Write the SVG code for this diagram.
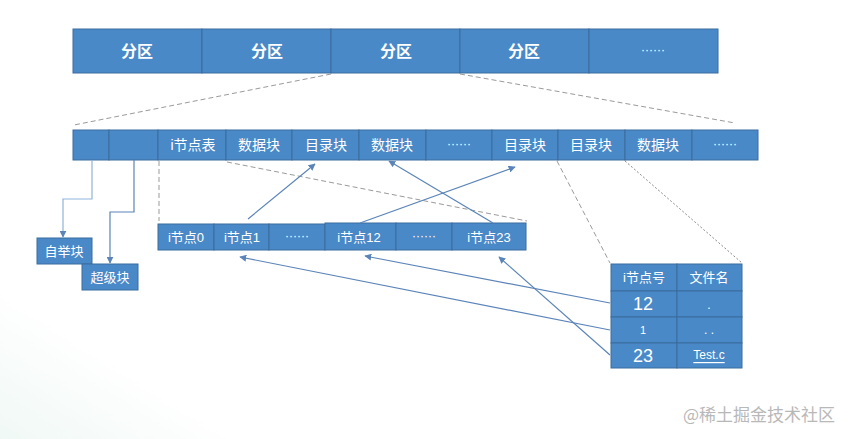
<svg xmlns="http://www.w3.org/2000/svg" width="853" height="439" viewBox="0 0 853 439">
<defs>
<marker id="ah" viewBox="0 0 10 10" refX="9" refY="5" markerWidth="7" markerHeight="7" orient="auto-start-reverse" markerUnits="userSpaceOnUse"><path d="M0,0 L10,5 L0,10 z" fill="#5b84b8"/></marker>
<linearGradient id="bg" x1="0" y1="1" x2="0.4" y2="0.6"><stop offset="0" stop-color="#e6f4ee"/><stop offset="1" stop-color="#ffffff"/></linearGradient>
</defs>
<style>
.c{fill:#4a89c8;stroke:#3a6d9e;stroke-width:1}
.t{fill:#fff;font-family:"Liberation Sans","Noto Sans CJK SC",sans-serif;text-anchor:middle;dominant-baseline:central}
.big{font-size:16px;font-weight:bold}
.mid{font-size:14px}
.sm{font-size:12px}
.in{font-size:13px}
.dash{fill:none;stroke:#9a9a9a;stroke-width:1;stroke-dasharray:5,3}
.dot{fill:none;stroke:#8a8a8a;stroke-width:1;stroke-dasharray:2,2}
.ln{fill:none;stroke:#5b84b8;stroke-width:1.2}
</style>
<rect width="853" height="439" fill="#fff"/>
<rect x="0" y="250" width="300" height="189" fill="url(#bg)" opacity="0.6"/>

<g id="partitions">
<rect class="c" x="73" y="29" width="129" height="44"/>
<rect class="c" x="202" y="29" width="129" height="44"/>
<rect class="c" x="331" y="29" width="129" height="44"/>
<rect class="c" x="460" y="29" width="129" height="44"/>
<rect class="c" x="589" y="29" width="129" height="44"/>
<text class="t big" x="137" y="51">分区</text>
<text class="t big" x="267" y="51">分区</text>
<text class="t big" x="396" y="51">分区</text>
<text class="t big" x="524" y="51">分区</text>
<text class="t sm" x="653" y="50">······</text>
</g>

<g id="blocks">
<rect class="c" x="73" y="130" width="36" height="30"/>
<rect class="c" x="109" y="130" width="49" height="30"/>
<rect class="c" x="158" y="130" width="68" height="30"/>
<rect class="c" x="226" y="130" width="66" height="30"/>
<rect class="c" x="292" y="130" width="67" height="30"/>
<rect class="c" x="359" y="130" width="67" height="30"/>
<rect class="c" x="426" y="130" width="66" height="30"/>
<rect class="c" x="492" y="130" width="66" height="30"/>
<rect class="c" x="558" y="130" width="67" height="30"/>
<rect class="c" x="625" y="130" width="67" height="30"/>
<rect class="c" x="692" y="130" width="66" height="30"/>
<text class="t mid" x="193" y="145">i节点表</text>
<text class="t mid" x="259" y="145">数据块</text>
<text class="t mid" x="326" y="145">目录块</text>
<text class="t mid" x="392" y="145">数据块</text>
<text class="t sm" x="459" y="144">······</text>
<text class="t mid" x="525" y="145">目录块</text>
<text class="t mid" x="591" y="145">目录块</text>
<text class="t mid" x="658" y="145">数据块</text>
<text class="t sm" x="725" y="144">······</text>
</g>

<g id="boot">
<rect class="c" x="37" y="238" width="55" height="26"/>
<text class="t in" x="64" y="251">自举块</text>
</g>
<g id="super">
<rect class="c" x="82" y="264" width="56" height="26"/>
<text class="t in" x="110" y="277">超级块</text>
</g>

<g id="inodes">
<rect class="c" x="158" y="224" width="56" height="26"/>
<rect class="c" x="214" y="224" width="55" height="26"/>
<rect class="c" x="269" y="224" width="56" height="26"/>
<rect class="c" x="325" y="223" width="71" height="27"/>
<rect class="c" x="396" y="223" width="56" height="27"/>
<rect class="c" x="452" y="223" width="74" height="27"/>
<text class="t in" x="186" y="237">i节点0</text>
<text class="t in" x="242" y="237">i节点1</text>
<text class="t sm" x="297" y="236">······</text>
<text class="t in" x="359" y="237">i节点12</text>
<text class="t sm" x="424" y="236">······</text>
<text class="t in" x="489" y="237">i节点23</text>
</g>

<g id="dirtable">
<rect class="c" x="611" y="264" width="66" height="27"/>
<rect class="c" x="677" y="264" width="65" height="27"/>
<rect class="c" x="611" y="291" width="66" height="26"/>
<rect class="c" x="677" y="291" width="65" height="26"/>
<rect class="c" x="611" y="317" width="66" height="26"/>
<rect class="c" x="677" y="317" width="65" height="26"/>
<rect class="c" x="611" y="343" width="66" height="25"/>
<rect class="c" x="677" y="343" width="65" height="25"/>
<text class="t in" x="644" y="277">i节点号</text>
<text class="t in" x="709" y="277">文件名</text>
<text class="t" style="font-size:18px" x="643" y="304">12</text>
<text class="t sm" x="709" y="305">.</text>
<text class="t" style="font-size:11px" x="643" y="330">1</text>
<text class="t sm" x="709" y="330">. .</text>
<text class="t" style="font-size:18px" x="643" y="356">23</text>
<text class="t sm" x="709" y="355" style="text-decoration:underline">Test.c</text>
</g>

<g id="connectors">
<line class="dash" x1="331" y1="74" x2="74" y2="125"/>
<line class="dash" x1="460" y1="74" x2="735" y2="123"/>
<polyline class="ln" points="92,160 92,199 63,199 63,237" marker-end="url(#ah)" style="stroke:#8fb3d9"/>
<polyline class="ln" points="134,160 134,212 110,212 110,263" marker-end="url(#ah)"/>
<line class="dash" x1="159" y1="161" x2="159" y2="221"/>
<line class="dash" x1="227" y1="162" x2="527" y2="221"/>
<line class="dash" x1="557" y1="161" x2="610" y2="263"/>
<line class="dot" x1="625" y1="161" x2="742" y2="263"/>
<line class="ln" x1="248" y1="219" x2="315" y2="164" marker-end="url(#ah)"/>
<line class="ln" x1="360" y1="223" x2="515" y2="167" marker-end="url(#ah)"/>
<line class="ln" x1="493" y1="223" x2="389" y2="161" marker-end="url(#ah)"/>
<line class="ln" x1="610" y1="303" x2="365" y2="256" marker-end="url(#ah)"/>
<line class="ln" x1="610" y1="330" x2="240" y2="257" marker-end="url(#ah)"/>
<line class="ln" x1="610" y1="355" x2="499" y2="257" marker-end="url(#ah)"/>
</g>

<text x="759" y="413" style="font-family:'Noto Sans CJK SC',sans-serif;font-size:17px;fill:#b8b8b8;text-anchor:middle;dominant-baseline:central">@稀土掘金技术社区</text>
</svg>
